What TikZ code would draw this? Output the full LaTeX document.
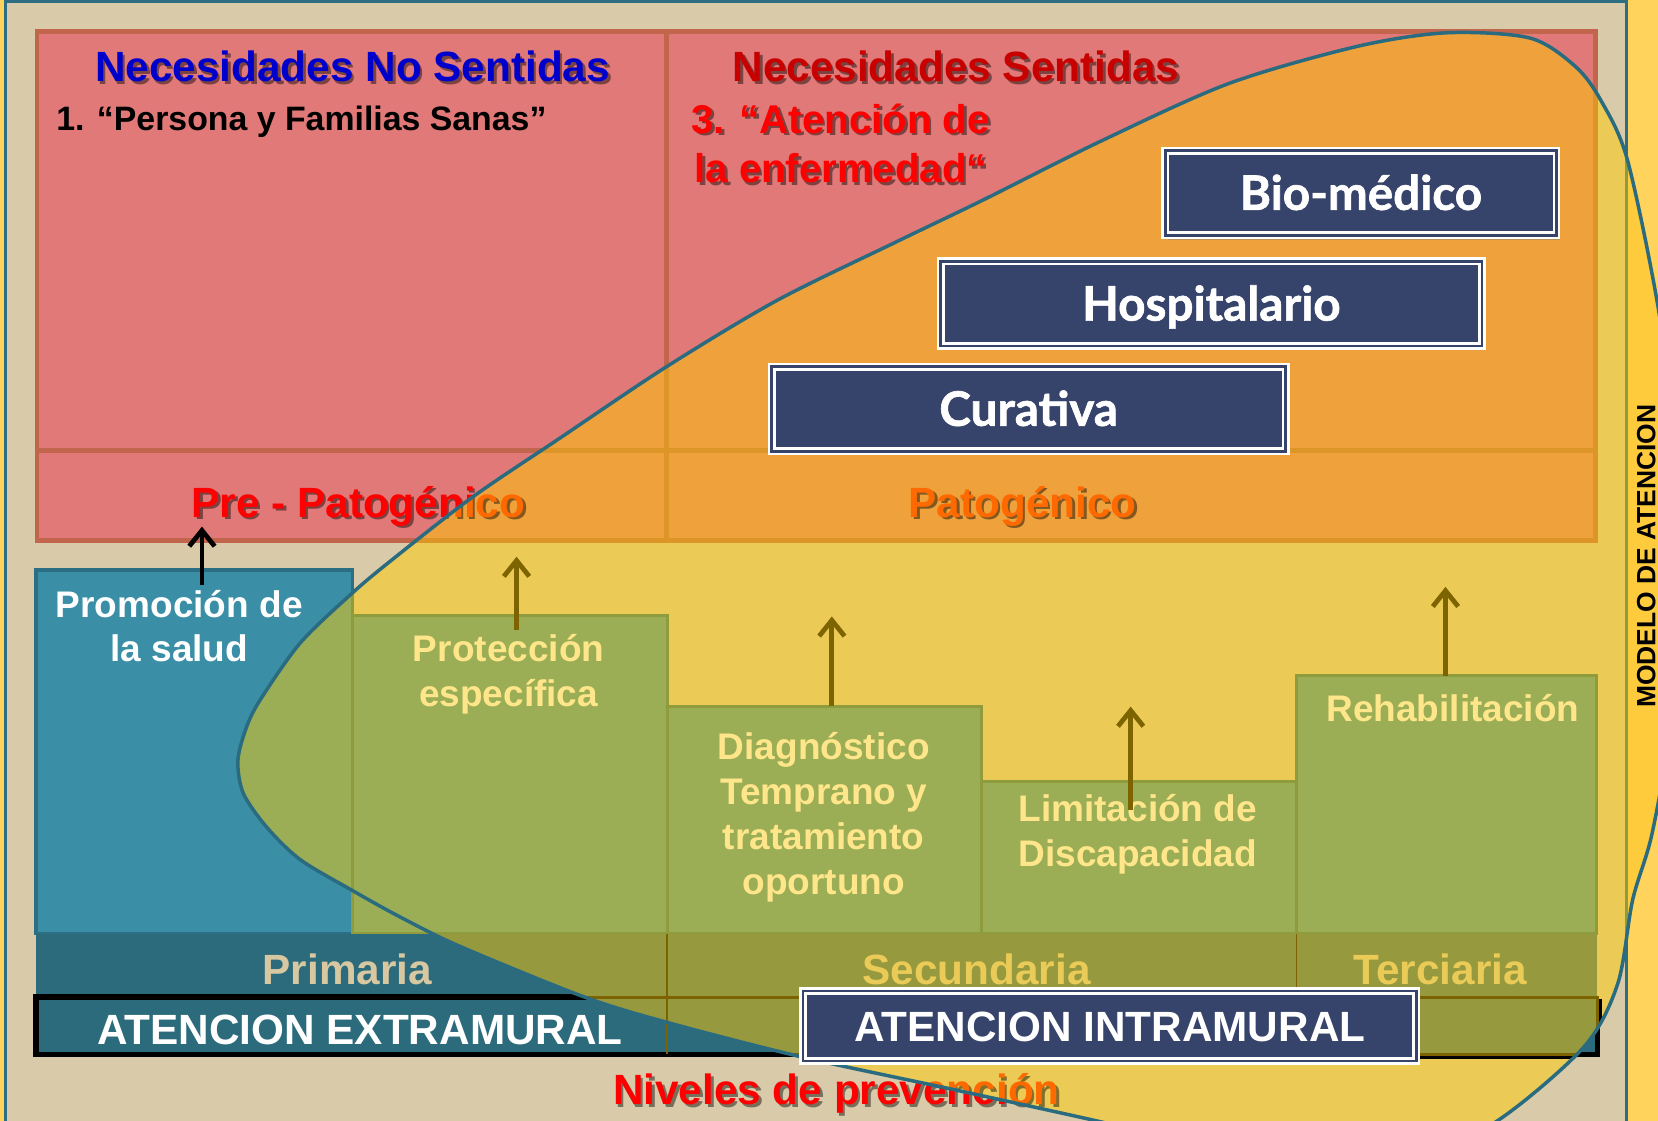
\documentclass[tikz,border=0pt]{standalone}
\usepackage{fontspec}
\setmainfont{Liberation Sans}
\newfontfamily\boxfont{Lato}[BoldFeatures={FakeBold=1.3}]
\usetikzlibrary{arrows.meta}
\usetikzlibrary{shadows}

\definecolor{bgbeige}{HTML}{D9CAA9}
\definecolor{stripyellow}{HTML}{FFD35C}
\definecolor{stripin}{HTML}{FDCB3C}
\definecolor{frameteal}{HTML}{2E6E82}
\definecolor{frameolive}{HTML}{8E9B40}
\definecolor{pinkfill}{HTML}{E17979}
\definecolor{pinkline}{HTML}{C1654C}
\definecolor{orangefill}{HTML}{EFA23C}
\definecolor{orangeline}{HTML}{DD9527}
\definecolor{blobyellow}{HTML}{EBCB55}
\definecolor{blobline}{HTML}{2A6B80}
\definecolor{tealfill}{HTML}{3A8FA6}
\definecolor{tealline}{HTML}{2C6F84}
\definecolor{greenfill}{HTML}{9BAE55}
\definecolor{greenline}{HTML}{8E9C3D}
\definecolor{rowteal}{HTML}{2B6B7B}
\definecolor{rowolive}{HTML}{96993E}
\definecolor{rowbrown}{HTML}{7C6200}
\definecolor{boxnavy}{HTML}{36436A}
\definecolor{titleblue}{HTML}{0000CC}
\definecolor{darkred}{HTML}{C80000}
\definecolor{brightred}{HTML}{FF0000}
\definecolor{patorange}{HTML}{FF6A00}
\definecolor{steplabel}{HTML}{FFE68A}
\definecolor{arrowolive}{HTML}{7D6400}
\definecolor{primlabel}{HTML}{D8C8A2}
\definecolor{seclabel}{HTML}{EBCB57}

% outline of the curve (y grows downwards)
\def\blobpath{plot[smooth cycle] coordinates {(225,719) (233,688) (246,662) (284,608) (333,561) (370,530) (447,470) (530,414) (630,347) (735,284) (845,230) (930,189) (1040,134) (1162,79) (1283,44) (1368,31) (1447,36) (1490,63) (1514,95) (1539,151) (1568,290) (1590,450) (1592,580) (1580,690) (1562,790) (1544,851) (1530,930) (1498,990) (1416,1060) (1330,1100) (1190,1095) (1037,1060) (900,1030) (760,1000) (635,968) (553,943) (435,895) (378,867) (333,842) (284,813) (252,782) (230,750)}}

\begin{document}
\begin{tikzpicture}
[
x=1pt, y=-1pt,
>={Straight Barb[length=15pt, width=24pt]},
topbox/.style={fill=pinkfill, draw=pinkline, line width=4.5pt},
topboxin/.style={fill=orangefill, draw=orangeline, line width=4.5pt},
promobox/.style={fill=tealfill, draw=tealline, line width=3pt},
stepbox/.style={fill=greenfill, draw=greenline, line width=3pt},
extrarow/.style={fill=rowteal, draw=black, line width=5pt},
intrarow/.style={fill=rowolive, draw=rowbrown, line width=3pt},
rowline/.style={draw=rowbrown, line width=1.5pt},
title/.style={font=\fontsize{40}{48}\selectfont\bfseries, inner sep=0pt, anchor=base},
steptext/.style={font=\fontsize{35}{42.5}\selectfont\bfseries, align=center, inner sep=0pt, anchor=base, text=steplabel},
navybox/.style={fill=boxnavy, draw=white, line width=2.5pt, double=boxnavy, double distance=2.5pt, text=white, inner sep=0pt, text height=32pt, text depth=0pt, font=\boxfont\bfseries\fontsize{45}{54}\selectfont, drop shadow={shadow xshift=3pt, shadow yshift=-4pt, opacity=.45}},
tsh/.style={text=black, text opacity=.45},
tblue/.style={text=titleblue},
tdred/.style={text=darkred},
tred/.style={text=brightred},
torange/.style={text=patorange},
uparrow/.style={->, line width=4.5pt},
]

\useasboundingbox (0,0) rectangle (1568,1060);
\clip (0,0) rectangle (1568,1060);

% background and frame
\fill[bgbeige] (0,0) rectangle (1568,1060);
\fill[stripyellow] (0,0) rectangle (4,1060);
\fill[stripyellow] (1540,0) rectangle (1568,1060);
\draw[frameteal, line width=3pt] (5.5,1060) -- (5.5,1.5) -- (1538.5,1.5) -- (1538.5,1060);

% panels outside the curve
\draw[topbox] (35,30) rectangle (1509,511);
\draw[topbox] (35,426) -- (1509,426) (630.5,30) -- (630.5,511);
\draw[promobox] (34,539) rectangle (333,883);
\foreach \l/\r/\t in {333/631/582, 631/928/668, 928/1226/739, 1226/1510/639}
\draw[stepbox] (\l,\t) rectangle (\r,883);
\fill[rowteal] (34,883) rectangle (1510,943);
\draw[rowline] (631,883) -- (631,943) (1226,883) -- (1226,943);
\draw[extrarow] (34,943) rectangle (1511,997);
\draw[rowline] (631,943) -- (631,997);
\foreach \s/\d in {tsh/2.5, tred/0}
\node[title, \s] (prepat-\s) at ([shift={(\d,\d)}]339,489) {Pre - Patogénico};
\foreach \s/\d in {tsh/2.5, tred/0}
\node[title, \s] (niveles-\s) at ([shift={(\d,\d)}]791,1045) {Niveles de prevención};

% the same panels inside the curve
\begin{scope}
\clip \blobpath;
\fill[blobyellow] (0,0) rectangle (1568,1060);
\fill[stripin] (1540,0) rectangle (1568,1060);
\draw[frameolive, line width=3pt] (1538.5,0) -- (1538.5,1060);
\draw[topboxin] (35,30) rectangle (1509,511);
\draw[topboxin] (35,426) -- (1509,426) (630.5,30) -- (630.5,511);
\draw[stepbox] (34,539) rectangle (333,883);
\foreach \l/\r/\t in {333/631/582, 631/928/668, 928/1226/739, 1226/1510/639}
\draw[stepbox] (\l,\t) rectangle (\r,883);
\fill[rowolive] (34,883) rectangle (1510,943);
\draw[rowline] (631,883) -- (631,943) (1226,883) -- (1226,943);
\draw[intrarow] (34,943) rectangle (1511,997);
\draw[black, line width=3pt] (36,1000) -- (1513.5,1000) -- (1513.5,945);
\draw[rowline] (631,943) -- (631,997);
\foreach \s/\d in {tsh/2.5, torange/0}
\node[title, \s] (prepatin-\s) at ([shift={(\d,\d)}]339,489) {Pre - Patogénico};
\foreach \s/\d in {tsh/2.5, torange/0}
\node[title, \s] (nivelesin-\s) at ([shift={(\d,\d)}]791,1045) {Niveles de prevención};
\end{scope}
\draw[blobline, line width=3.3pt] \blobpath;

% headings
\foreach \s/\d in {tsh/2.5, tblue/0}
\node[title, \s] (nosentidas-\s) at ([shift={(\d,\d)}]333.5,77) {Necesidades No Sentidas};
\node[title, anchor=base west, font=\fontsize{32}{38}\selectfont\bfseries] (sanas) at (53,123) {1. “Persona y Familias Sanas”};
\foreach \s/\d in {tsh/2.5, tdred/0}
\node[title, \s] (sentidas-\s) at ([shift={(\d,\d)}]904,77) {Necesidades Sentidas};
\foreach \s/\d in {tsh/2.5, tred/0}
\node[title, \s, align=center, font=\fontsize{38}{47}\selectfont\bfseries] (enfermedad-\s) at ([shift={(\d,\d)}]795,173) {3. “Atención de\\la enfermedad“};
\foreach \s/\d in {tsh/2.5, torange/0}
\node[title, \s] (patogenico-\s) at ([shift={(\d,\d)}]967,489) {Patogénico};

% models of care
\node[navybox, minimum width=370, minimum height=80] (biomedico) at (1287,182.5) {Bio-médico};
\node[navybox, minimum width=512, minimum height=80] (hospital) at (1145.6,287.2) {Hospitalario};
\node[navybox, minimum width=486, minimum height=80] (curativa) at (972.8,386.7) {Curativa};

% levels of prevention (base = last line)
\node[steptext, text=white] (promocion) at (169.5,626) {Promoción de\\la salud};
\node[steptext] (proteccion) at (481,668.3) {Protección\\específica};
\node[steptext] (diagnostico) at (779,846) {Diagnóstico\\Temprano y\\tratamiento\\oportuno};
\node[steptext] (limitacion) at (1076,819.6) {Limitación de\\Discapacidad};
\node[steptext] (rehab) at (1374,682.5) {Rehabilitación};

\node[title, text=primlabel] (primaria) at (328.5,931) {Primaria};
\node[title, text=seclabel] (secundaria) at (923.5,931) {Secundaria};
\node[title, text=seclabel] (terciaria) at (1362,931) {Terciaria};
\node[title, text=white] (extramural) at (340.5,988) {ATENCION EXTRAMURAL};
\node[navybox, font=\bfseries\fontsize{40}{48}\selectfont, text height=28.6pt, minimum width=580, minimum height=66] (intramural) at (1049.5,970.3) {ATENCION INTRAMURAL};

\node[font=\fontsize{25}{30}\selectfont\bfseries, rotate=90, inner sep=0pt] (modelo) at (1557,526) {MODELO DE ATENCION};

% arrows
\coordinate (promo-foot) at (191,553);
\coordinate (promo-tip) at (191,498);
\draw[uparrow, black] (promo-foot) -- (promo-tip);
\foreach \n/\x/\a/\b in {prot/488.5/596/526.5, diag/786.7/668/583, lim/1069.3/766/668.3, rehab/1367/639/555}
{
\coordinate (\n-foot) at (\x,\a);
\coordinate (\n-tip) at (\x,\b);
\draw[uparrow, arrowolive] (\n-foot) -- (\n-tip);
}
\end{tikzpicture}
\end{document}
